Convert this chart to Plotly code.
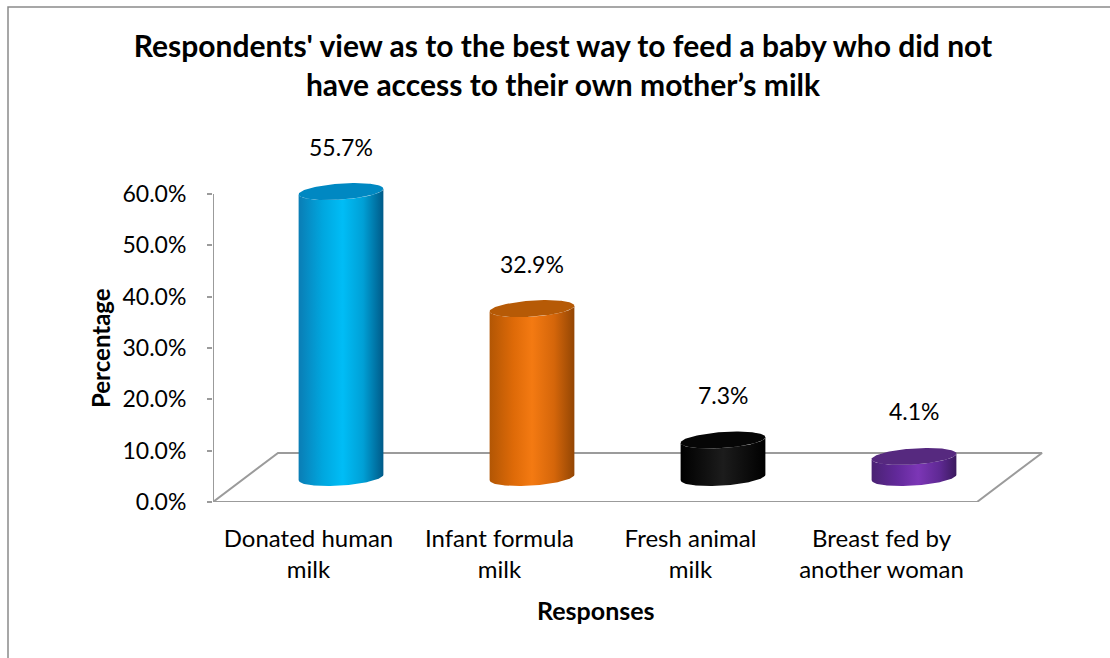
import numpy as np
import plotly.graph_objects as go

# ---- data ----
categories = ["Donated human<br>milk", "Infant formula<br>milk", "Fresh animal<br>milk", "Breast fed by<br>another woman"]
percentages = [55.7, 32.9, 7.3, 4.1]
y_ticks = [0, 10, 20, 30, 40, 50, 60]
y_tick_labels = [f"{t:.1f}%" for t in y_ticks]

title_text = ("Respondents' view as to the best way to feed a baby who did not<br>"
              "have access to their own mother’s milk")

# body gradient (left edge -> highlight -> right edge) and top-face colour per bar
body_scales = [
    [[0, "#0a7db5"], [0.28, "#00a6de"], [0.52, "#00bdf6"], [0.76, "#00a0d6"], [1, "#005a88"]],
    [[0, "#b25604"], [0.28, "#de6a08"], [0.50, "#f47a12"], [0.76, "#d5660a"], [1, "#934604"]],
    [[0, "#000000"], [0.50, "#1c1c1c"], [1, "#000000"]],
    [[0, "#4a2273"], [0.30, "#62299a"], [0.55, "#7c36b6"], [0.80, "#5f2994"], [1, "#3b1a5e"]],
]
top_colors = ["#0088c2", "#b65a06", "#060606", "#56297f"]

# ---- figure geometry (pixels) ----
W, H = 1110, 658
L, R, T, B = 213, 60, 165, 156
PX_PER_CAT = 191.0
PX_PER_PCT = 308.0 / 60.0

plot_w = W - L - R
plot_h = H - T - B
x_range = [-0.5, -0.5 + plot_w / PX_PER_CAT]
y_range = [0, plot_h / PX_PER_PCT]

# oblique depth of the floor, in data units
DX = 65 / PX_PER_CAT
DY = 49 / PX_PER_PCT

# cylinder cross-section (pixels): half-width, depth skew
RAD_PX, SKEW_X_PX, SKEW_Y_PX = 40.0, 14.0, 8.5

GRID = "#9b9b9b"
FONT = "Lato"


def px_x(px):
    return (px - L) / plot_w


def px_y(py):
    return (H - B - py) / plot_h


def ellipse(cx, cy, t):
    dx = RAD_PX * np.cos(t) + SKEW_X_PX * np.sin(t)
    dy = SKEW_Y_PX * np.sin(t)
    return cx + dx / PX_PER_CAT, cy + dy / PX_PER_PCT


fig = go.Figure()

# floor of the 3-D plot area
n = len(categories)
floor_x = [-0.5, n - 0.5, n - 0.5 + DX, -0.5 + DX, -0.5]
floor_y = [0, 0, DY, DY, 0]
fig.add_trace(go.Scatter(x=floor_x, y=floor_y, mode="lines", fill="toself",
                         fillcolor="white", line=dict(color=GRID, width=2),
                         hoverinfo="skip", showlegend=False))

# value axis line
fig.add_trace(go.Scatter(x=[-0.5, -0.5], y=[0, y_ticks[-1]], mode="lines",
                         line=dict(color=GRID, width=2), hoverinfo="skip", showlegend=False))

theta0 = np.arctan2(SKEW_X_PX, RAD_PX)
front = np.linspace(theta0 + np.pi, theta0 + 2 * np.pi, 80)
full = np.linspace(0, 2 * np.pi, 160)

for i, v in enumerate(percentages):
    cx = i + DX / 2
    base = DY / 2
    top = base + v

    bx, by = ellipse(cx, base, front)
    tx, ty = ellipse(cx, top, front[::-1])
    body_x = np.concatenate([bx, tx, bx[:1]])
    body_y = np.concatenate([by, ty, by[:1]])
    fig.add_trace(go.Scatter(x=body_x, y=body_y, mode="lines", fill="toself",
                             fillgradient=dict(type="horizontal", colorscale=body_scales[i]),
                             line=dict(width=0), hoverinfo="skip", showlegend=False))

    ex, ey = ellipse(cx, top, full)
    fig.add_trace(go.Scatter(x=ex, y=ey, mode="lines", fill="toself",
                             fillcolor=top_colors[i], line=dict(width=0, color=top_colors[i]),
                             hoverinfo="skip", showlegend=False))

    fig.add_annotation(x=cx, y=top, text=f"{v:.1f}%", showarrow=False,
                       yshift=45, font=dict(family=FONT, size=23, color="black"))

# axis titles
fig.add_annotation(xref="paper", yref="paper", x=px_x(596), y=px_y(610),
                   text="<b>Responses</b>", showarrow=False,
                   xanchor="center", yanchor="middle",
                   font=dict(family=FONT, size=25, color="black"))
fig.add_annotation(xref="paper", yref="paper", x=px_x(100), y=px_y(348),
                   text="<b>Percentage</b>", showarrow=False, textangle=-90,
                   xanchor="center", yanchor="middle",
                   font=dict(family=FONT, size=24, color="black"))

# chart frame
fig.add_shape(type="path", xref="paper", yref="paper",
              path=f"M {px_x(8)},{px_y(H + 5)} L {px_x(8)},{px_y(7)} L {px_x(W + 5)},{px_y(7)}",
              line=dict(color="#8a8a8a", width=1.5))

fig.update_layout(
    width=W, height=H,
    margin=dict(l=L, r=R, t=T, b=B),
    paper_bgcolor="white", plot_bgcolor="white",
    title=dict(text=f"<b>{title_text}</b>", x=563 / W, xanchor="center",
               y=1 - 57 / H, yanchor="middle", yref="container",
               font=dict(family=FONT, size=30, color="black")),
    font=dict(family=FONT, size=22, color="black"),
    xaxis=dict(range=x_range, tickmode="array", tickvals=list(range(n)), ticktext=categories,
               showgrid=False, zeroline=False, showline=False, ticks="",
               ticklabelstandoff=20, tickfont=dict(family=FONT, size=24),
               fixedrange=True),
    yaxis=dict(range=y_range, tickmode="array", tickvals=y_ticks, ticktext=y_tick_labels,
               showgrid=False, zeroline=False, showline=False,
               ticks="outside", ticklen=5, tickcolor=GRID, tickwidth=2,
               ticklabelstandoff=16, tickfont=dict(family=FONT, size=23),
               fixedrange=True),
    showlegend=False,
)

fig.write_html("out.html")
